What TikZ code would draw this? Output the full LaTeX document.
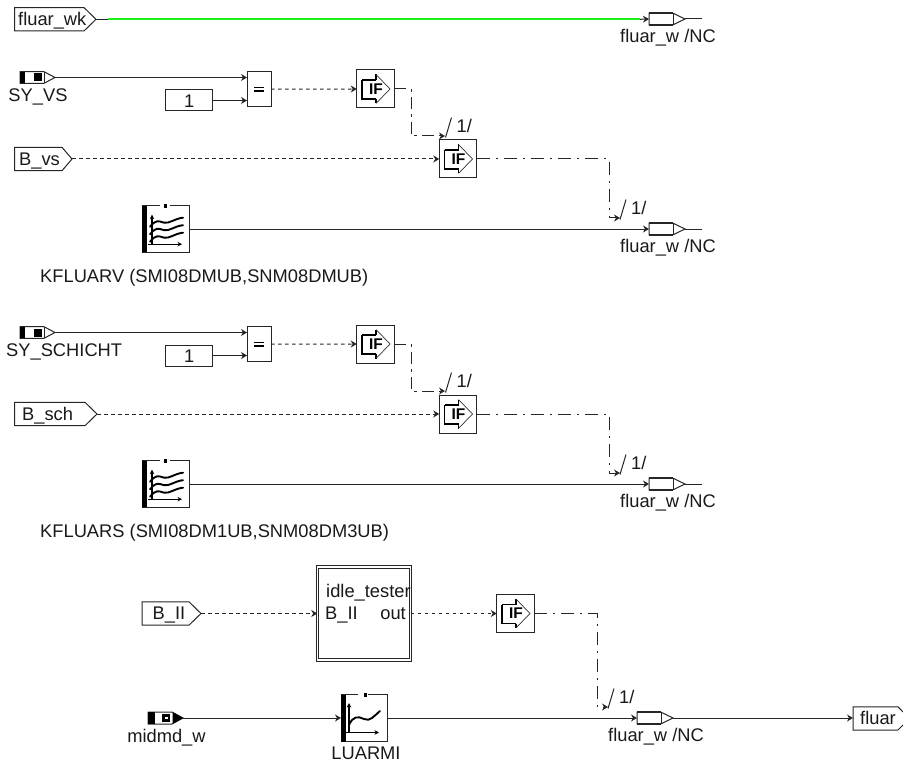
\documentclass[tikz,border=0pt]{standalone}
\usepackage{fontspec}
\setmainfont{Liberation Sans}
\usetikzlibrary{arrows.meta,calc}
\tikzset{
  wire/.style={line width=1pt,draw=black!85},
  sig/.style={wire,-{Stealth[length=6pt,width=7pt]}},
  dotline/.style={dash pattern=on 3.5pt off 3.5pt},
  dashdot/.style={dash pattern=on 13pt off 6pt on 2pt off 6pt},
  lbl/.style={font=\fontsize{18.3}{19}\selectfont,inner sep=0pt,text=black!90,yshift=-6.3pt},
  box/.style={draw=black!85,line width=1pt,fill=white,inner sep=0pt,outer sep=0pt},
  shape line/.style={draw=black!85,line width=1pt,fill=white}
}
\newcommand{\outw}[3]{%
  \draw[shape line] (#2,#3-5.8) -- (#2+24,#3-5.8) -- (#2+36,#3) -- (#2+24,#3+5.8) -- (#2,#3+5.8) -- cycle;
  \draw[wire] (#2+24,#3-5.8) -- (#2+24,#3+5.8);
  \draw[line width=1.5pt,draw=black!85] (#2,#3-5.8) -- (#2+24,#3-5.8) (#2,#3+5.8) -- (#2+24,#3+5.8);
  \coordinate (#1in) at (#2,#3);
  \coordinate (#1out) at (#2+36,#3);
  \node[lbl,anchor=base] (#1txt) at (#2+19,#3+17) {fluar\_w /NC};
}
\newcommand{\intag}[7]{%
  \draw[shape line] (#2,#5-11.7) -- (#3,#5-11.7) -- (#4,#5) -- (#3,#5+11.7) -- (#2,#5+11.7) -- cycle;
  \coordinate (#1) at (#4,#5);
  \node[lbl,anchor=base west] (#1txt) at (#7,#5) {#6};
}
\newcommand{\source}[6]{%
  \draw[shape line] (#2,#3-5.8) -- (#2+24,#3-5.8) -- (#2+35,#3) -- (#2+24,#3+5.8) -- (#2,#3+5.8) -- cycle;
  \draw[wire] (#2+24,#3-5.8) -- (#2+24,#3+5.8);
  \fill[black] (#2,#3-5.8) rectangle (#2+5,#3+5.8);
  \fill[black] (#2+14,#3-4) rectangle (#2+22,#3+4);
  \coordinate (#1) at (#2+35,#3);
  \node[lbl,anchor=base #5] (#1txt) at (#6,#3+17.5) {#4};
}
\newcommand{\ifblock}[3]{%
  \node[box,minimum width=37.5pt,minimum height=38pt] (#1) at (#2,#3) {};
  \draw[draw=black,line width=1.4pt,fill=white] (#2-13.5,#3-9) -- (#2+0.5,#3-9) (#2-13.5,#3-9) -- (#2-13.5,#3+10) -- (#2+0.5,#3+10);
  \draw[draw=black,line width=1.4pt] (#2+0.5,#3-9) -- (#2+0.5,#3-14.5) (#2+0.5,#3+10) -- (#2+0.5,#3+14.5);
  \draw[draw=black!80,line width=0.7pt] (#2+0.5,#3-14.5) -- (#2+14.5,#3) -- (#2+0.5,#3+14.5);
  \node[inner sep=0pt,font=\fontsize{15.5}{15}\selectfont\bfseries] at (#2+0.5,#3) {IF};
}
\newcommand{\cmp}[3]{%
  \node[box,minimum width=24pt,minimum height=35pt] (#1) at (#2,#3) {};
  \draw[line width=1.7pt] (#2-5,#3-1.7) -- (#2+5,#3-1.7) (#2-5,#3+1.7) -- (#2+5,#3+1.7);
}
\newcommand{\slashlbl}[2]{%
  \draw[line width=1pt,draw=black!85] (#1,#2+1) -- (#1+6,#2-19);
  \node[lbl,anchor=base west] at (#1+11,#2-10) {1/};
}
\newcommand{\mapblock}[2]{%
  \node[box,minimum width=47.5pt,minimum height=46.5pt] (#1) at (166,#2+23.3) {};
  \fill[black] (142,#2) rectangle (147,#2+46.5);
  \fill[white] (160,#2-1) rectangle (170,#2+1);
  \fill[black] (163.5,#2-2) rectangle (167,#2+2.5);
  \draw[line width=1.2pt,-{Stealth[length=4.5pt,width=4.5pt]}] (152,#2+39) -- (152,#2+9);
  \draw[line width=1.2pt,-{Stealth[length=4.5pt,width=4.5pt]}] (148,#2+38.5) -- (182,#2+38.5);
  \foreach \d in {0,7.5,15}{
    \draw[line width=1.9pt,line cap=round] (150,#2+21+\d) .. controls (156,#2+14+\d) and (158,#2+15+\d) .. (164,#2+17+\d) .. controls (170,#2+18+\d) and (174,#2+13+\d) .. (183,#2+12+\d);
  }
}
\begin{document}
\begin{tikzpicture}[x=1pt,y=-1pt]
\useasboundingbox (0,0) rectangle (903,765);
\intag{wk}{14.5}{84}{96}{19.3}{fluar\_wk}{18}
\outw{fa}{649}{19}
\draw[wire] (wk) -- (108,19.3) coordinate (gs);
\draw[draw={rgb,255:red,30;green,240;blue,30},line width=2pt] (gs) -- (640,19.3) coordinate (ge);
\draw[sig] (ge) -- (fain);
\draw[wire] (faout) -- +(17,0);
\source{syv}{20}{77.5}{SY\_VS}{}{38}
\node[box,minimum width=47pt,minimum height=21pt] (cv) at (189.3,100.5) {};
\node[lbl,anchor=base] (cvt) at (189.3,101) {1};
\cmp{eqv}{259}{89.2}
\ifblock{ifva}{375.5}{89}
\ifblock{ifvb}{458}{159}
\intag{bvs}{14.5}{62}{72}{159}{B\_vs}{19}
\mapblock{kv}{205.7}
\outw{fb}{649}{229}
\node[lbl,anchor=base west] (kvt) at (40,276) {KFLUARV (SMI08DMUB,SNM08DMUB)};
\draw[sig] (syv) -- (syv -| eqv.west);
\draw[sig] (cv.east) -- (cv.east -| eqv.west);
\draw[sig,dotline] (eqv.east) -- (ifva.west);
\draw[sig,dash pattern=on 12pt off 5pt on 3pt off 5pt] (ifva.east) -| (411,136) -- (445,136);
\slashlbl{445.5}{136.5}
\draw[sig,dotline] (bvs) -- (ifvb.west);
\draw[sig,dashdot] (ifvb.east) -| (609,218) -- (620,218);
\slashlbl{620}{218.5}
\draw[sig] (kv.east) -- (fbin);
\draw[wire] (fbout) -- +(17,0);
\source{sys}{20}{332.5}{SY\_SCHICHT}{west}{6}
\node[box,minimum width=47pt,minimum height=21pt] (cs) at (189.3,355.5) {};
\node[lbl,anchor=base] (cst) at (189.3,356) {1};
\cmp{eqs}{259}{344.2}
\ifblock{ifsa}{375.5}{344}
\ifblock{ifsb}{458}{414}
\intag{bsc}{14.5}{85}{97}{414}{B\_sch}{22}
\mapblock{ks}{460.7}
\outw{fc}{649}{484}
\node[lbl,anchor=base west] (kst) at (40,531) {KFLUARS (SMI08DM1UB,SNM08DM3UB)};
\draw[sig] (sys) -- (sys -| eqs.west);
\draw[sig] (cs.east) -- (cs.east -| eqs.west);
\draw[sig,dotline] (eqs.east) -- (ifsa.west);
\draw[sig,dash pattern=on 12pt off 5pt on 3pt off 5pt] (ifsa.east) -| (411,391) -- (445,391);
\slashlbl{445.5}{391.5}
\draw[sig,dotline] (bsc) -- (ifsb.west);
\draw[sig,dashdot] (ifsb.east) -| (609,473) -- (620,473);
\slashlbl{620}{473.5}
\draw[sig] (ks.east) -- (fcin);
\draw[wire] (fcout) -- +(17,0);
\intag{bii}{142}{189}{201}{613.5}{B\_II}{152.5}
\node[box,minimum width=93.5pt,minimum height=93pt,double=white,double distance=1.2pt,draw=black!85,line width=1pt] (idle) at (364,613.5) {};
\node[lbl,anchor=base west] (idlet) at (326,591) {idle\_tester};
\node[lbl,anchor=base west] (idlea) at (325,613.5) {B\_II};
\node[lbl,anchor=base east] (idleb) at (406,613.5) {out};
\ifblock{ifi}{515.5}{613.5}
\draw[sig,dotline] (bii) -- (idle.west);
\draw[sig,dotline] (idle.east) -- (ifi.west);
\draw[sig,dashdot] (ifi.east) -| (597,707) -- (608,707);
\slashlbl{608}{707.5}
\draw[shape line] (148,712) -- (172,712) -- (183,718) -- (172,724) -- (148,724) -- cycle;
\fill[black] (148,712) rectangle (155,724);
\fill[black] (172.5,712) -- (183,718) -- (172.5,724) -- cycle;
\fill[black] (162,714) rectangle (170,722);
\fill[white] (164.5,717) rectangle (168,719);
\coordinate (mid) at (183,718);
\node[lbl,anchor=base] (midt) at (166.5,736) {midmd\_w};
\node[box,minimum width=46pt,minimum height=47pt] (lu) at (364,718) {};
\fill[black] (341,694.5) rectangle (346,741.5);
\fill[white] (358,693.5) rectangle (368,695.5);
\fill[black] (363.5,692.5) rectangle (367,697);
\draw[line width=1.2pt,-{Stealth[length=4.5pt,width=4.5pt]}] (349,733) -- (349,703);
\draw[line width=1.2pt,-{Stealth[length=4.5pt,width=4.5pt]}] (346,732.5) -- (379,732.5);
\draw[line width=1.9pt,line cap=round] (349,725) .. controls (353,716) and (358,716) .. (364,719) .. controls (370,722) and (374,716) .. (380,711);
\node[lbl,anchor=base] (lut) at (366,753) {LUARMI};
\outw{fd}{637}{718}
\draw[sig] (mid) -- (lu.west);
\draw[sig] (lu.east) -- (fdin);
\draw[shape line] (903,712) -- (898,706.8) -- (853,706.8) -- (853,730) -- (898,730) -- (903,725);
\node[lbl,anchor=base west] (fl) at (860,718) {fluar};
\draw[sig] (fdout) -- (853,718);
\end{tikzpicture}
\end{document}
